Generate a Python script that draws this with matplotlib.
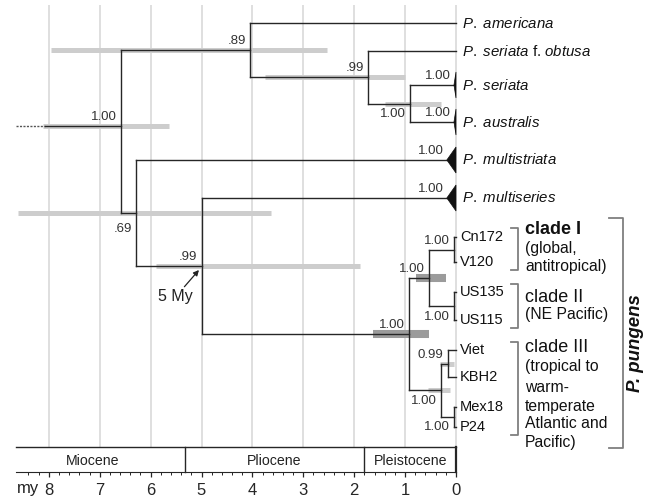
import matplotlib
matplotlib.use('Agg')
import matplotlib.pyplot as plt
from matplotlib.patches import Polygon

plt.rcParams['font.family'] = ['Liberation Sans', 'DejaVu Sans']
plt.rcParams['mathtext.fontset'] = 'custom'
plt.rcParams['mathtext.rm'] = 'Liberation Sans'
plt.rcParams['mathtext.it'] = 'Liberation Sans:italic'
plt.rcParams['mathtext.bf'] = 'Liberation Sans:bold'

# 数据: tips (top to bottom)
tip_names = ['P. americana', 'P. seriata f. obtusa', 'P. seriata', 'P. australis',
             'P. multistriata', 'P. multiseries', 'Cn172', 'V120', 'US135', 'US115',
             'Viet', 'KBH2', 'Mex18', 'P24']
tip_labels = [r'$\it{P.\ americana}$', r'$\it{P.\ seriata}$ f. $\it{obtusa}$',
              r'$\it{P.\ seriata}$', r'$\it{P.\ australis}$', r'$\it{P.\ multistriata}$',
              r'$\it{P.\ multiseries}$', 'Cn172', 'V120', 'US135', 'US115',
              'Viet', 'KBH2', 'Mex18', 'P24']
tip_y = [23, 51, 85, 122, 160, 198, 237, 262, 292, 320, 350, 377, 407, 427]

# 内部节点: 年龄 (My), 支持率, 95% 区间
children = {'root': ['A', 'D'], 'A': ['P. americana', 'B'], 'B': ['P. seriata f. obtusa', 'C'],
            'C': ['P. seriata', 'P. australis'], 'D': ['P. multistriata', 'E'],
            'E': ['P. multiseries', 'F'], 'F': ['G', 'H'], 'G': ['I', 'J'],
            'I': ['Cn172', 'V120'], 'J': ['US135', 'US115'], 'H': ['L', 'M'],
            'L': ['Viet', 'KBH2'], 'M': ['Mex18', 'P24']}
node_age = {'root': 6.59, 'A': 4.05, 'B': 1.73, 'C': 0.90, 'D': 6.29, 'E': 5.00,
            'F': 0.92, 'G': 0.54, 'I': 0.04, 'J': 0.04, 'H': 0.30, 'L': 0.16, 'M': 0.04}
support = {'root': '1.00', 'A': '.89', 'B': '.99', 'C': '1.00', 'D': '.69', 'E': '.99',
           'F': '1.00', 'G': '1.00', 'I': '1.00', 'J': '1.00', 'H': '1.00', 'L': '0.99',
           'M': '1.00'}
label_below = {'C': -3.5, 'D': -7, 'J': -3.5, 'H': -3.5, 'M': -3}
ci = {'root': (8.11, 5.64), 'A': (7.96, 2.53), 'B': (3.75, 1.00), 'C': (1.39, 0.29),
      'D': (8.60, 3.63), 'E': (5.89, 1.89), 'F': (1.63, 0.53), 'G': (0.79, 0.20),
      'H': (0.55, 0.12), 'L': (0.31, 0.04)}
ci_dark = ['F', 'G']
root_stem = (8.64, 8.07)

# 折叠的分支 (三角形)
collapsed_support = {'P. seriata': '1.00', 'P. australis': '1.00',
                     'P. multistriata': '1.00', 'P. multiseries': '1.00'}
collapsed_width = {'P. seriata': 0.04, 'P. australis': 0.04,
                   'P. multistriata': 0.18, 'P. multiseries': 0.18}

epochs = ['Miocene', 'Pliocene', 'Pleistocene']
epoch_start = [8.64, 5.33, 1.80]
epoch_end = [5.33, 1.80, 0.0]
ticks = [8, 7, 6, 5, 4, 3, 2, 1, 0]

line_c = '#262626'
W, H = 657, 503
x0_px, px_per_my = 456, 50.9

fig = plt.figure(figsize=(W / 100, H / 100), dpi=100)
ax = fig.add_axes([0, 0, 1, 1])
ax.set_xlim(x0_px / px_per_my, -(W - x0_px) / px_per_my)
ax.set_ylim(H, 0)
for s in ['top', 'left', 'right']:
    ax.spines[s].set_visible(False)
ax.spines['bottom'].set_position(('data', 472))
ax.spines['bottom'].set_bounds(epoch_start[0], 0)
ax.spines['bottom'].set_color(line_c)
ax.set_yticks([])
ax.set_xticks(ticks)
ax.set_xticklabels([str(t) for t in ticks])
ax.set_xticks([i * 0.2 for i in range(1, 43)], minor=True)
ax.tick_params(axis='x', which='major', direction='out', length=3.5, width=0.9,
               labelsize=12, pad=4.5, colors=line_c)
ax.tick_params(axis='x', which='minor', direction='out', length=2, width=0.7, colors=line_c)
ax.patch.set_alpha(0)

# 网格
ax.vlines(ticks, 5, 447, color='#dcdcdc', lw=1.3, zorder=0)

# 地质年代框
ax.plot([epoch_start[0], 0], [447, 447], color=line_c, lw=1.0)
for e in epoch_end:
    ax.plot([e, e], [447, 472], color=line_c, lw=1.6 if e == 0 else 1.0)
for i, name in enumerate(epochs):
    xs = epoch_start[i] if i > 0 else ax.get_xlim()[0]
    ax.text((xs + epoch_end[i]) / 2, 461, name, ha='center', va='center', fontsize=10.2,
            color='#222222')

# 节点位置
y_of = dict(zip(tip_names, tip_y))


def ny(n):
    if n not in y_of:
        ys = [ny(c) for c in children[n]]
        y_of[n] = (min(ys) + max(ys)) / 2
    return y_of[n]


ny('root')
y_of['root'] = 126

# 区间条
for n, (lo, hi) in ci.items():
    dark = n in ci_dark
    ax.plot([lo, hi], [y_of[n]] * 2, color='#9b9b9b' if dark else '#cdcdcd',
            lw=5.8 if dark else 3.6, solid_capstyle='butt', zorder=1)

# 树
ax.plot([root_stem[0], root_stem[1]], [y_of['root']] * 2, color='#555555', lw=1.0,
        ls=(0, (1.5, 1)), zorder=2)
ax.plot([root_stem[1], node_age['root']], [y_of['root']] * 2, color=line_c, lw=1.0, zorder=2)
for n, ch in children.items():
    x = node_age[n]
    ys = [y_of[c] for c in ch]
    ax.plot([x, x], [min(ys), max(ys)], color=line_c, lw=1.0, zorder=2)
    for c in ch:
        cx = node_age.get(c, collapsed_width.get(c, 0.0))
        ax.plot([x, cx], [y_of[c]] * 2, color=line_c, lw=1.0, zorder=2)

for c, w in collapsed_width.items():
    y = y_of[c]
    ax.add_patch(Polygon([(w, y), (0, y - 13), (0, y + 13)], closed=True,
                         facecolor='#111111', edgecolor='#111111', lw=0.5, zorder=3))
    ax.annotate(collapsed_support[c], xy=(w, y), xytext=(-2, 2), textcoords='offset points',
                ha='right', va='bottom', fontsize=9.5, color='#333333')

# 支持率
for n, s in support.items():
    below = n in label_below
    ax.annotate(s, xy=(node_age[n], y_of[n]), xytext=(-3, label_below.get(n, 2)),
                textcoords='offset points', ha='right', va='top' if below else 'bottom',
                fontsize=9.5, color='#333333')

# 末端标签
for name, lab, y in zip(tip_names, tip_labels, tip_y):
    italic = name.startswith('P.')
    ax.annotate(lab, xy=(0, y), xytext=(4.5 if italic else 3, 0), textcoords='offset points',
                ha='left', va='center', fontsize=10.8 if italic else 10.5, color='#111111')

# 5 My 箭头
ax.annotate('5 My', xy=(5.05, 270), xytext=(5.52, 297), ha='center', va='center',
            fontsize=11.5, color='#222222',
            arrowprops=dict(arrowstyle='-|>', color='#222222', lw=0.9, mutation_scale=8,
                            relpos=(0.7, 1.0), shrinkA=0, shrinkB=0))

# 叠加层: 括号和分支说明
ov = fig.add_axes([0, 0, 1, 1])
ov.set_xlim(0, W)
ov.set_ylim(H, 0)
ov.axis('off')
ov.patch.set_alpha(0)

br_c = '#7f7f7f'
for y1, y2 in [(228, 270), (284, 328), (342, 435)]:
    ov.plot([511, 518, 518, 511], [y1, y1, y2, y2], color=br_c, lw=1.3)
ov.plot([609, 623, 623, 609], [218, 218, 448, 448], color=br_c, lw=1.3)

ov.text(525, 230, 'clade I', fontsize=13, fontweight='bold', va='center', ha='left',
        color='#111111')
for y, s in [(249, '(global,'), (267, 'antitropical)')]:
    ov.text(525, y, s, fontsize=11.3, va='center', ha='left', color='#111111')
ov.text(525, 297, 'clade II', fontsize=13, va='center', ha='left', color='#111111')
ov.text(525, 315, '(NE Pacific)', fontsize=11.3, va='center', ha='left', color='#111111')
ov.text(525, 348, 'clade III', fontsize=13, va='center', ha='left', color='#111111')
for y, s in [(367, '(tropical to'), (387, 'warm-'), (406, 'temperate'),
             (424, 'Atlantic and'), (443, 'Pacific)')]:
    ov.text(525, y, s, fontsize=11.3, va='center', ha='left', color='#111111')

ov.text(636, 343, 'P. pungens', rotation=90, fontsize=13.4, fontweight='bold',
        fontstyle='italic', ha='center', va='center', color='#111111')
ov.text(28, 489, 'my', fontsize=12, ha='center', va='center', color='#222222')

plt.savefig('out.png', dpi=100)
